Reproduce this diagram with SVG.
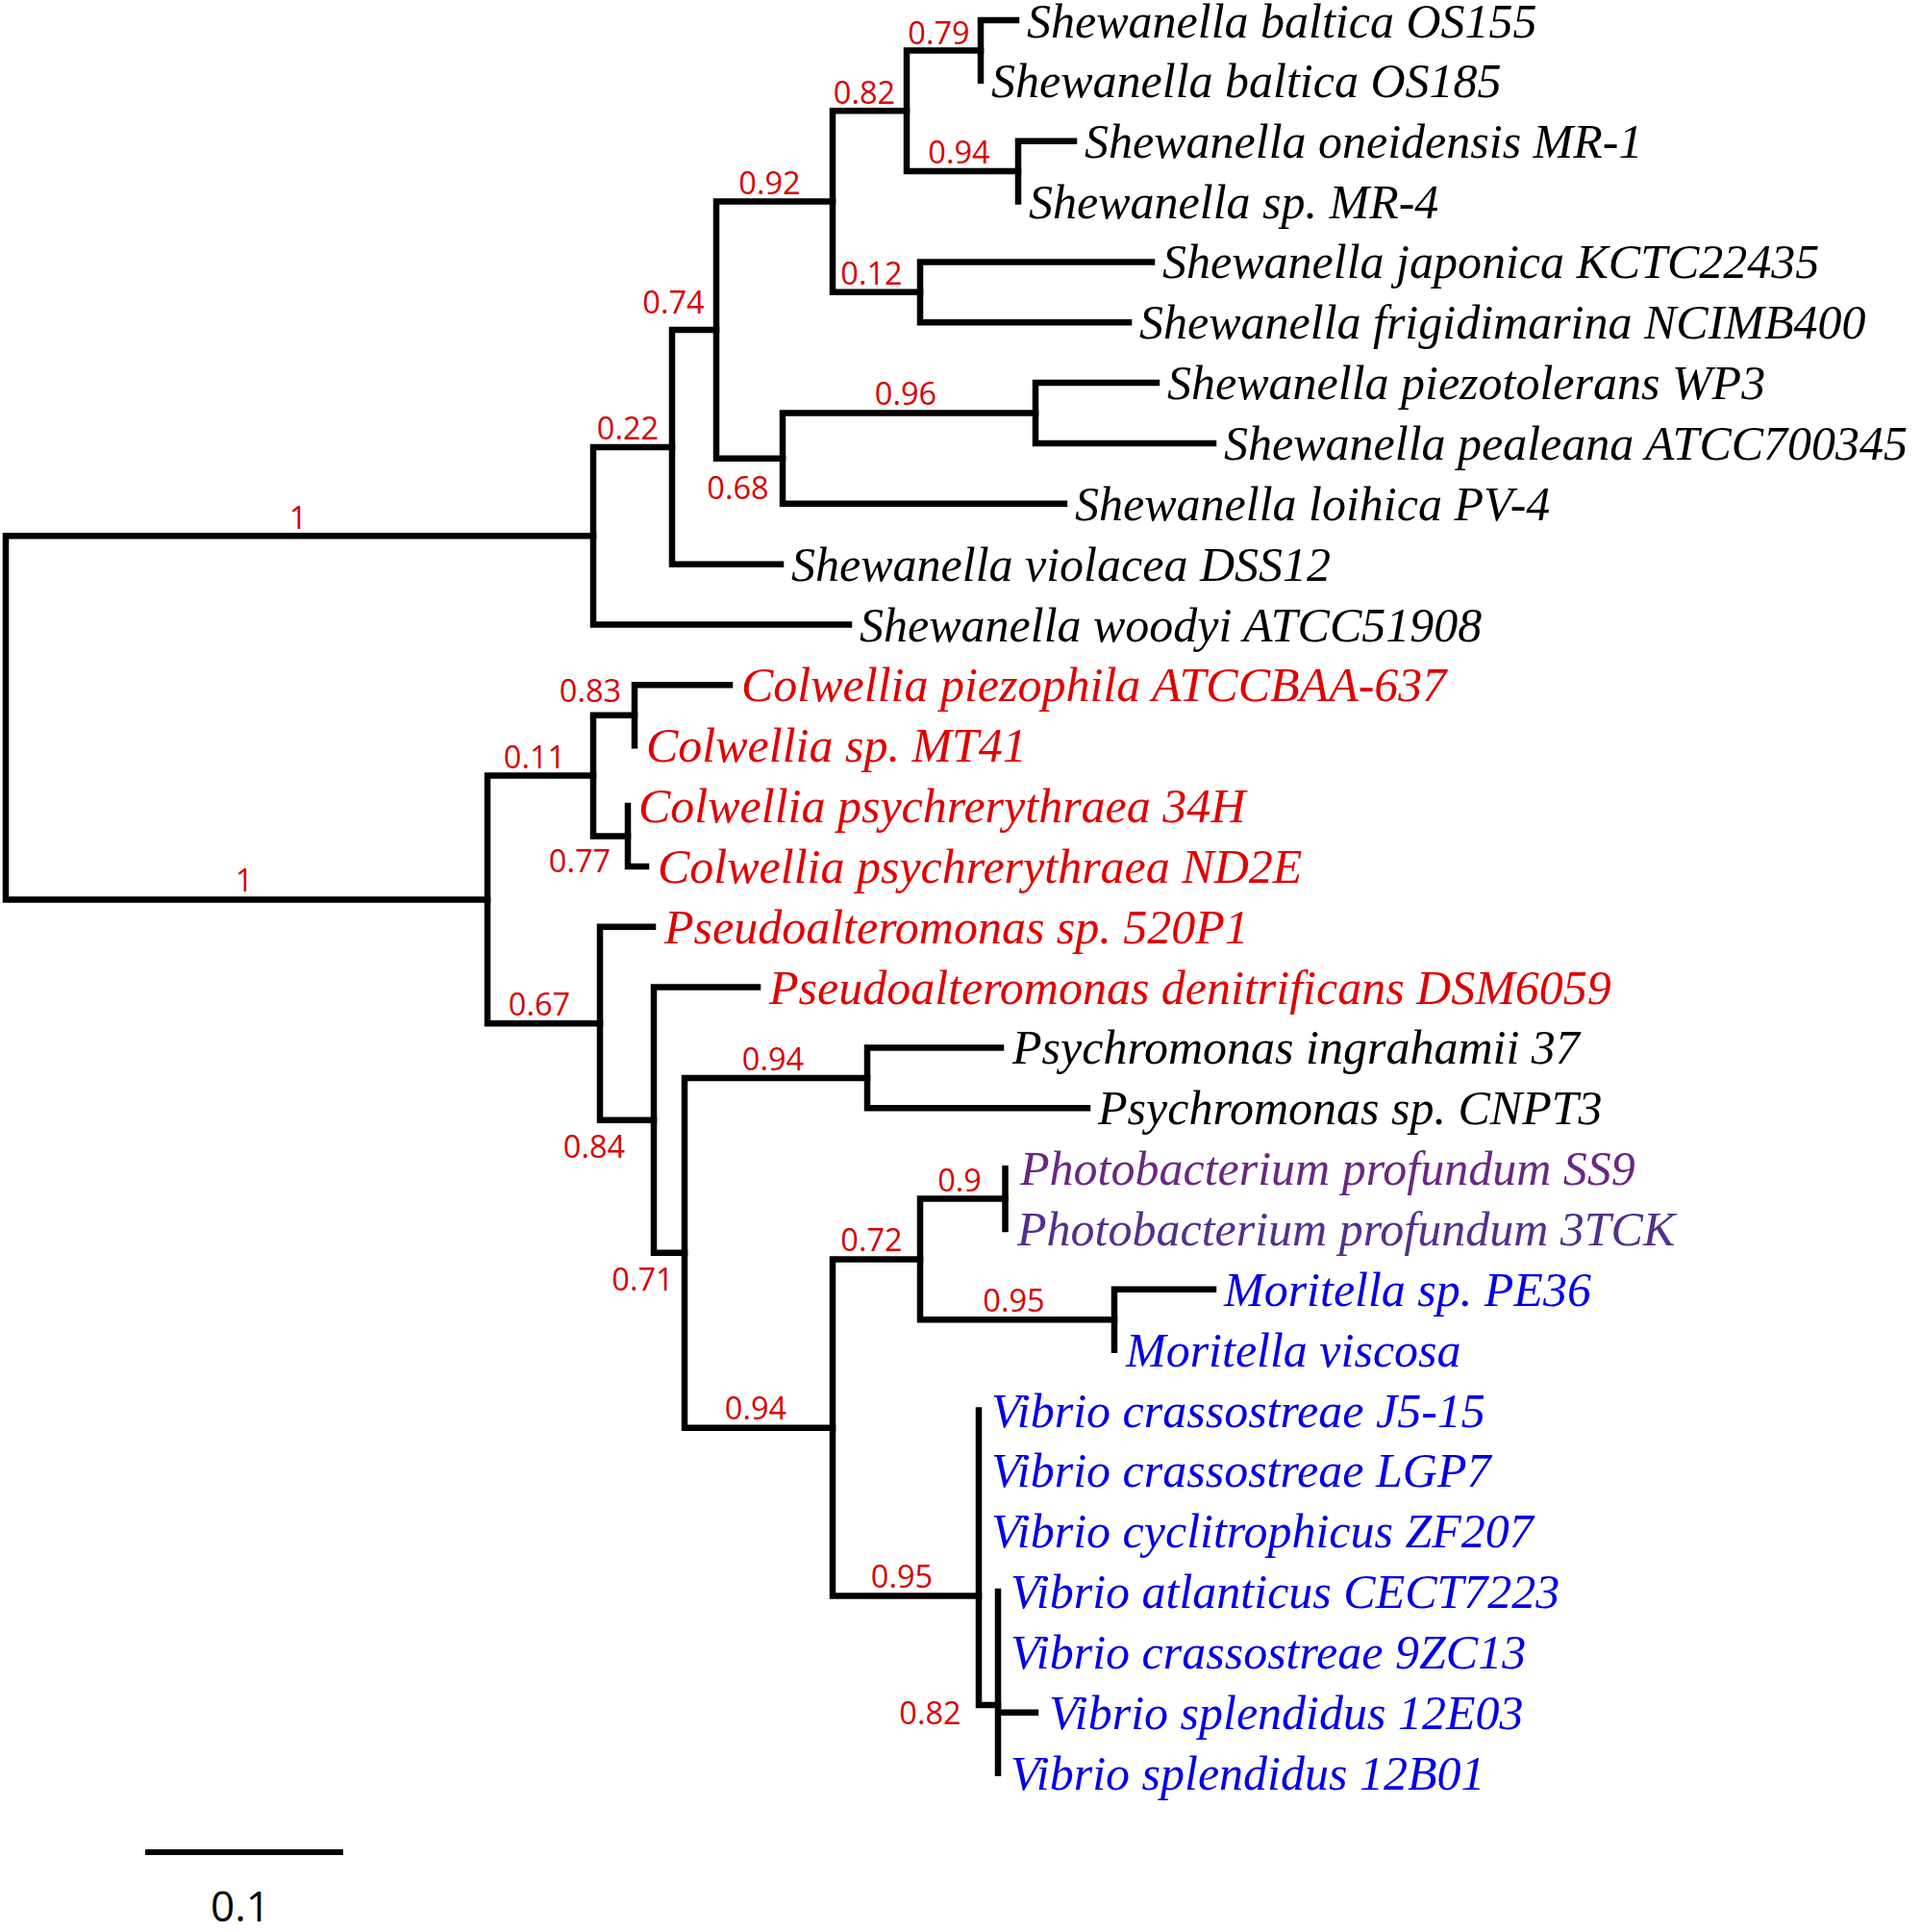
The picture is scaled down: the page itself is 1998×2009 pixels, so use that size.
<svg xmlns="http://www.w3.org/2000/svg" width="1998" height="2009" viewBox="0 0 1998 2009">
<style>
.br{fill:none;stroke:#000;stroke-width:6.5;stroke-linecap:square;stroke-linejoin:miter}
.lf{font-family:"Liberation Serif","Times New Roman",serif;font-style:italic;font-size:50px}
.k{fill:#000}.r{fill:#e00000}.b{fill:#0000e6}.p1{fill:#6a2784}.p2{fill:#52308e}
.bs{font-family:"Open Sans","Liberation Sans",sans-serif;font-size:32.5px;fill:#d80000;text-anchor:middle}
.sc{font-family:"Open Sans","Liberation Sans",sans-serif;font-size:44px;fill:#000;text-anchor:middle}
</style>
<rect width="1998" height="2009" fill="#fff"/>
<g id="connectors">
<path class="br" d="M6,557.2V935.4M6,557.2H617M6,935.4H507"/>
<path class="br" d="M617,464.9V649.5M617,464.9H699M617,649.5H883"/>
<path class="br" d="M699,343.1V586.65M699,343.1H745M699,586.65H812"/>
<path class="br" d="M745,209.6V476.7M745,209.6H866M745,476.7H814"/>
<path class="br" d="M866,115.3V303.8M866,115.3H943M866,303.8H957"/>
<path class="br" d="M943,52.4V178.1M943,52.4H1020M943,178.1H1059"/>
<path class="br" d="M1020,21V83.85M1020,21H1057"/>
<path class="br" d="M1059,146.7V209.55M1059,146.7H1117"/>
<path class="br" d="M957,272.4V335.25M957,272.4H1198M957,335.25H1174"/>
<path class="br" d="M814,429.5V523.8M814,429.5H1077M814,523.8H1107"/>
<path class="br" d="M1077,398.1V460.95M1077,398.1H1203M1077,460.95H1262"/>
<path class="br" d="M507,806.6V1064.2M507,806.6H617M507,1064.2H624"/>
<path class="br" d="M617,743.8V869.5M617,743.8H660M617,869.5H653"/>
<path class="br" d="M660,712.35V775.2M660,712.35H759"/>
<path class="br" d="M653,838.05V900.9M653,900.9H672"/>
<path class="br" d="M624,963.75V1164.7M624,963.75H679M624,1164.7H680"/>
<path class="br" d="M680,1026.6V1302.8M680,1026.6H788M680,1302.8H712"/>
<path class="br" d="M712,1120.9V1484.7M712,1120.9H902M712,1484.7H866"/>
<path class="br" d="M902,1089.45V1152.3M902,1089.45H1041M902,1152.3H1131"/>
<path class="br" d="M866,1309.4V1659.5M866,1309.4H957M866,1659.5H1018"/>
<path class="br" d="M957,1246.6V1372.3M957,1246.6H1045.5M957,1372.3H1159"/>
<path class="br" d="M1045.5,1215.15V1278"/>
<path class="br" d="M1159,1340.85V1403.7M1159,1340.85H1262"/>
<path class="br" d="M1018,1466.55V1773M1018,1773H1038"/>
<path class="br" d="M1038,1655.1V1843.65M1038,1780.8H1077"/>
</g>
<g id="support">
<text class="bs" x="976.5" y="46">0.79</text>
<text class="bs" x="899" y="108">0.82</text>
<text class="bs" x="997.5" y="170">0.94</text>
<text class="bs" x="800.5" y="202">0.92</text>
<text class="bs" x="906.5" y="296">0.12</text>
<text class="bs" x="700.5" y="326">0.74</text>
<text class="bs" x="942" y="421">0.96</text>
<text class="bs" x="653" y="457">0.22</text>
<text class="bs" x="767.5" y="519">0.68</text>
<text class="bs" x="310" y="549.5">1</text>
<text class="bs" x="614" y="730">0.83</text>
<text class="bs" x="556" y="799">0.11</text>
<text class="bs" x="603" y="907">0.77</text>
<text class="bs" x="254" y="927">1</text>
<text class="bs" x="561" y="1056">0.67</text>
<text class="bs" x="618" y="1204">0.84</text>
<text class="bs" x="668.5" y="1342">0.71</text>
<text class="bs" x="804" y="1113">0.94</text>
<text class="bs" x="998" y="1239">0.9</text>
<text class="bs" x="906.5" y="1301">0.72</text>
<text class="bs" x="1054.5" y="1364">0.95</text>
<text class="bs" x="786" y="1476">0.94</text>
<text class="bs" x="938" y="1651">0.95</text>
<text class="bs" x="967.5" y="1793">0.82</text>
</g>
<g id="n0"><text class="lf k" x="1068" y="39">Shewanella baltica OS155</text></g>
<g id="n1"><text class="lf k" x="1031" y="100.85">Shewanella baltica OS185</text></g>
<g id="n2"><text class="lf k" x="1128" y="163.7">Shewanella oneidensis MR-1</text></g>
<g id="n3"><text class="lf k" x="1070" y="226.55">Shewanella sp. MR-4</text></g>
<g id="n4"><text class="lf k" x="1209" y="289.4">Shewanella japonica KCTC22435</text></g>
<g id="n5"><text class="lf k" x="1185" y="352.25">Shewanella frigidimarina NCIMB400</text></g>
<g id="n6"><text class="lf k" x="1214" y="415.1">Shewanella piezotolerans WP3</text></g>
<g id="n7"><text class="lf k" x="1273" y="477.95">Shewanella pealeana ATCC700345</text></g>
<g id="n8"><text class="lf k" x="1118" y="540.8">Shewanella loihica PV-4</text></g>
<g id="n9"><text class="lf k" x="823" y="603.65">Shewanella violacea DSS12</text></g>
<g id="n10"><text class="lf k" x="894" y="666.5">Shewanella woodyi ATCC51908</text></g>
<g id="n11"><text class="lf r" x="771" y="729.35">Colwellia piezophila ATCCBAA-637</text></g>
<g id="n12"><text class="lf r" x="672" y="792.2">Colwellia sp. MT41</text></g>
<g id="n13"><text class="lf r" x="664" y="855.05">Colwellia psychrerythraea 34H</text></g>
<g id="n14"><text class="lf r" x="684" y="917.9">Colwellia psychrerythraea ND2E</text></g>
<g id="n15"><text class="lf r" x="691" y="980.75">Pseudoalteromonas sp. 520P1</text></g>
<g id="n16"><text class="lf r" x="800" y="1043.6">Pseudoalteromonas denitrificans DSM6059</text></g>
<g id="n17"><text class="lf k" x="1053" y="1106.45">Psychromonas ingrahamii 37</text></g>
<g id="n18"><text class="lf k" x="1142" y="1169.3">Psychromonas sp. CNPT3</text></g>
<g id="n19"><text class="lf p1" x="1061" y="1232.15">Photobacterium profundum SS9</text></g>
<g id="n20"><text class="lf p2" x="1058" y="1295">Photobacterium profundum 3TCK</text></g>
<g id="n21"><text class="lf b" x="1273" y="1357.85">Moritella sp. PE36</text></g>
<g id="n22"><text class="lf b" x="1171" y="1420.7">Moritella viscosa</text></g>
<g id="n23"><text class="lf b" x="1031" y="1483.55">Vibrio crassostreae J5-15</text></g>
<g id="n24"><text class="lf b" x="1031" y="1546.4">Vibrio crassostreae LGP7</text></g>
<g id="n25"><text class="lf b" x="1031" y="1609.25">Vibrio cyclitrophicus ZF207</text></g>
<g id="n26"><text class="lf b" x="1051" y="1672.1">Vibrio atlanticus CECT7223</text></g>
<g id="n27"><text class="lf b" x="1051" y="1734.95">Vibrio crassostreae 9ZC13</text></g>
<g id="n28"><text class="lf b" x="1091" y="1797.8">Vibrio splendidus 12E03</text></g>
<g id="n29"><text class="lf b" x="1051" y="1860.65">Vibrio splendidus 12B01</text></g>
<g id="scalebar">
<line x1="151" y1="1926" x2="357" y2="1926" stroke="#000" stroke-width="6"/>
<text class="sc" x="250" y="1998">0.1</text>
</g>
</svg>
